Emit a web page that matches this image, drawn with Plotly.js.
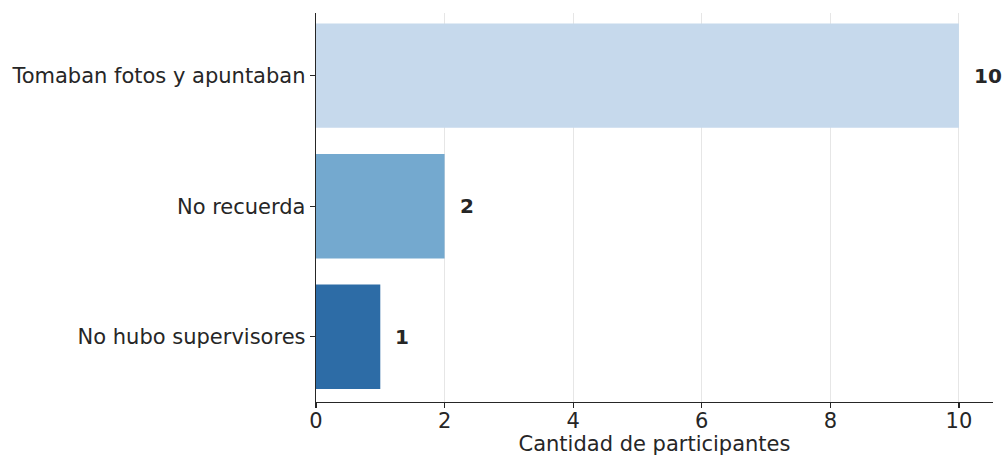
<!DOCTYPE html>
<html>
<head>
<meta charset="utf-8">
<script src="https://cdn.plot.ly/plotly-3.0.1.min.js"></script>
<style>html,body{margin:0;padding:0;background:#fff;}#chart{width:1005px;height:456px;}</style>
</head>
<body>
<div id="chart"></div>
<script>
const categories = ["No hubo supervisores", "No recuerda", "Tomaban fotos y apuntaban"];
const values = [1, 2, 10];
const barColors = ["#2d6ca6", "#74a9cf", "#c6d9ec"];
const xTicks = [0, 2, 4, 6, 8, 10];
const xTitle = "Cantidad de participantes";

const fontFam = "DejaVu Sans, sans-serif";
const trace = {
  type: "bar",
  orientation: "h",
  y: categories,
  x: values,
  width: 0.8,
  marker: {color: barColors, line: {width: 0}},
  hoverinfo: "none"
};
const annotations = values.map((v, i) => ({
  x: v, y: categories[i], xref: "x", yref: "y",
  text: "<b>" + v + "</b>", showarrow: false,
  xanchor: "left", xshift: 13,
  font: {family: fontFam, size: 20, color: "#262626"}
}));
const layout = {
  width: 1005, height: 456,
  margin: {l: 316, r: 12, t: 13, b: 54},
  paper_bgcolor: "#fff", plot_bgcolor: "#fff",
  showlegend: false,
  font: {family: fontFam, size: 21, color: "#262626"},
  xaxis: {
    range: [0, 10.53],
    tickvals: xTicks,
    ticktext: xTicks.map(String),
    showgrid: true, gridcolor: "#e6e6e6", gridwidth: 1,
    zeroline: false,
    showline: true, linecolor: "#262626", linewidth: 1.3,
    ticks: "outside", ticklen: 5, tickcolor: "#262626", tickwidth: 1.2,
    ticklabelstandoff: -6,
    tickfont: {family: fontFam, size: 21, color: "#262626"},
    title: {text: xTitle, standoff: 0, font: {family: fontFam, size: 21, color: "#262626"}}
  },
  yaxis: {
    type: "category",
    categoryorder: "array", categoryarray: categories,
    range: [-0.5, 2.48],
    showgrid: false, zeroline: false,
    showline: true, linecolor: "#262626", linewidth: 1.3,
    ticks: "outside", ticklen: 5, tickcolor: "#262626", tickwidth: 1.2,
    tickfont: {family: fontFam, size: 21, color: "#262626"}
  },
  annotations: annotations
};
Plotly.newPlot("chart", [trace], layout, {displayModeBar: false, staticPlot: true});
</script>
</body>
</html>
